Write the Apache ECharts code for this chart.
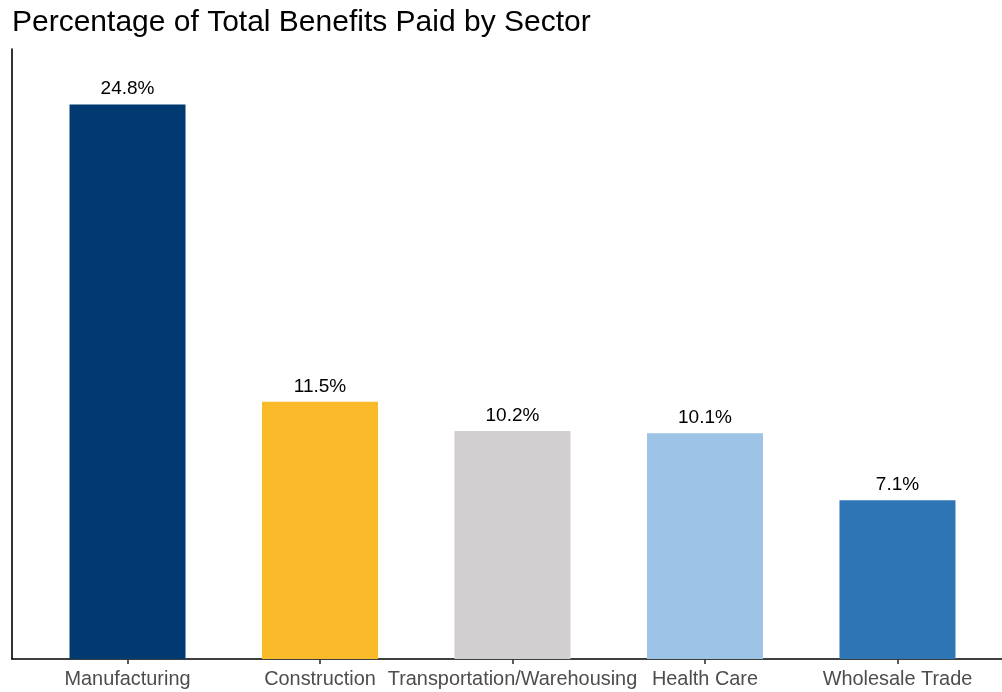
<!DOCTYPE html>
<html>
<head>
<meta charset="utf-8">
<style>
  html, body { margin: 0; padding: 0; background: #ffffff; }
  #chart { width: 1002px; height: 692px; }
</style>
<script src="https://cdn.jsdelivr.net/npm/echarts@6/dist/echarts.min.js"></script>
</head>
<body>
<div id="chart"></div>
<script>
// Share of total benefits paid, by sector (percent)
const categories = ['Manufacturing', 'Construction', 'Transportation/Warehousing', 'Health Care', 'Wholesale Trade'];
const values = [24.8, 11.5, 10.2, 10.1, 7.1];
const barColors = ['#003A70', '#FBBA2A', '#D1CFD0', '#9DC3E6', '#2E75B6'];

// Categories sit at positions 1..n on a continuous axis; 0.6 padding on the left,
// the right side is trimmed by the page edge
const positions = categories.map((_, i) => i + 1);
const yMax = Math.max(...values) * 1.1;

const chart = echarts.init(document.getElementById('chart'), null, { renderer: 'canvas' });
const font = 'Liberation Sans, Arial, sans-serif';

chart.setOption({
  animation: false,
  backgroundColor: '#ffffff',
  title: {
    text: 'Percentage of Total Benefits Paid by Sector',
    left: 12,
    top: 8,
    padding: 0,
    textStyle: { fontFamily: font, fontSize: 30, fontWeight: 'normal', color: '#000000' }
  },
  grid: { left: 12, top: 49, right: 0, height: 610, containLabel: false },
  xAxis: {
    type: 'value',
    min: 0.4,
    max: categories.length + 0.543,
    splitLine: { show: false },
    axisLine: { show: true, lineStyle: { color: '#000000', width: 1.6 } },
    axisTick: {
      show: true,
      customValues: positions,
      length: 5,
      lineStyle: { color: '#333333', width: 1.6 }
    },
    axisLabel: {
      show: true,
      customValues: positions,
      margin: 11,
      fontFamily: font,
      fontSize: 19.9,
      color: '#4D4D4D',
      formatter: (v) => categories[Math.round(v) - 1] || ''
    }
  },
  yAxis: {
    type: 'value',
    min: 0,
    max: yMax,
    splitLine: { show: false },
    axisLine: { show: true, lineStyle: { color: '#000000', width: 1.6 } },
    axisTick: { show: false },
    axisLabel: { show: false }
  },
  series: [{
    type: 'bar',
    barWidth: 116,
    data: values.map((v, i) => ({
      value: [positions[i], v],
      itemStyle: { color: barColors[i] }
    })),
    label: {
      show: true,
      position: 'top',
      distance: 6,
      fontFamily: font,
      fontSize: 19,
      color: '#000000',
      formatter: (p) => p.value[1].toFixed(1) + '%'
    }
  }]
});
</script>
</body>
</html>
